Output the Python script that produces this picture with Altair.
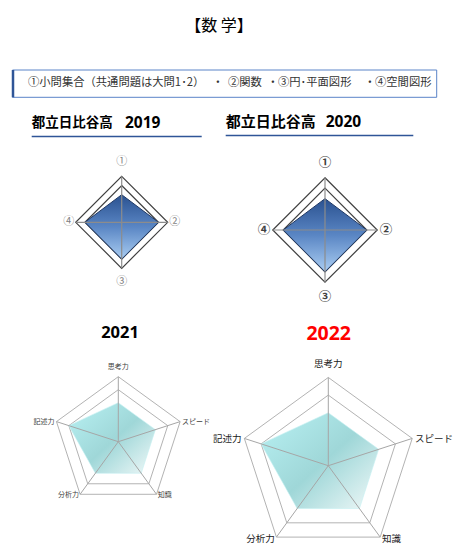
import math
import altair as alt
import pandas as pd

# ---------------- data ----------------
MAIN_TITLE = "【数 学】"
LEGEND_ITEMS = ["①小問集合（共通問題は大問1･2）", "②関数", "③円･平面図形", "④空間図形"]
LEGEND_SEP = "・"
SCHOOL = "都立日比谷高"
diamond_years = ["2019", "2020"]
diamond_axes = ["①", "②", "③", "④"]
scores_2019 = [3, 4, 4, 4]
scores_2020 = [3, 4, 4, 4]
pent_years = ["2021", "2022"]
pent_axes = ["思考力", "スピード", "知識", "分析力", "記述力"]
scores_2021 = [3, 3, 3, 3, 4]
scores_2022 = [3, 3, 3, 3, 4]
grid_levels = [4, 5]

# ---------------- layout ----------------
JP = "Noto Sans CJK JP"
LAT = "Noto Sans"
XS = alt.Scale(domain=[8, 453], range=[0, 445], zero=False, nice=False)
YS = alt.Scale(domain=[8, 545], range=[0, 537], zero=False, nice=False)
legend_item_x = [28, 228, 278, 375]
legend_sep_x = [218, 273, 370]

radar_layout = {
    "2019": dict(cx=121.7, cy=222.3, unit=9.2),
    "2020": dict(cx=325.0, cy=230.0, unit=10.45),
    "2021": dict(cx=118.3, cy=441.7, unit=13.0),
    "2022": dict(cx=328.3, cy=465.7, unit=17.65),
}


def enc(**extra):
    d = dict(x=alt.X("x:Q", scale=XS, axis=None), y=alt.Y("y:Q", scale=YS, axis=None))
    d.update(extra)
    return d


def angle(k, n):
    return math.radians(90 - 360.0 * k / n)


def polygon_rows(year, values, tag):
    L = radar_layout[year]
    n = len(values)
    rows = []
    for k, v in enumerate(values):
        a = angle(k, n)
        r = v * L["unit"]
        rows.append(dict(x=L["cx"] + r * math.cos(a), y=L["cy"] - r * math.sin(a), i=k, poly=f"{year}-{tag}"))
    return rows


def spoke_rows(year, n):
    L = radar_layout[year]
    R = max(grid_levels) * L["unit"]
    rows = []
    for k in range(n):
        a = angle(k, n)
        rows.append(dict(x=L["cx"], y=L["cy"], x2=L["cx"] + R * math.cos(a), y2=L["cy"] - R * math.sin(a)))
    return rows


def text_layer(text, x, y, size, color="#000000", weight="normal", font=JP, align="center", baseline="middle"):
    df = pd.DataFrame([dict(x=x, y=y, t=text)])
    return alt.Chart(df).mark_text(
        fontSize=size, color=color, fontWeight=weight, font=font, align=align, baseline=baseline
    ).encode(**enc(text="t:N"))


def rule_layer(rows, color, width):
    return alt.Chart(pd.DataFrame(rows)).mark_rule(color=color, strokeWidth=width).encode(
        **enc(x2="x2:Q", y2="y2:Q")
    )


layers = []

# title
layers.append(text_layer(MAIN_TITLE, 219, 26, 16))

# legend box
box = pd.DataFrame([dict(x=12.5, x2=436.7, y=70, y2=97.3)])
layers.append(alt.Chart(box).mark_rect(fill="white", stroke="#5B84C8", strokeWidth=1).encode(
    **enc(x2="x2:Q", y2="y2:Q")))
layers.append(rule_layer([dict(x=13, x2=13, y=70, y2=97.3)], "#2F5597", 2.5))
for item, px in zip(LEGEND_ITEMS, legend_item_x):
    layers.append(text_layer(item, px, 83, 11.3, color="#333333", align="left"))
for px in legend_sep_x:
    layers.append(text_layer(LEGEND_SEP, px, 83, 11.3, color="#333333", align="center"))

# headings
layers.append(text_layer(SCHOOL, 31.7, 123, 13.5, weight="bold", align="left"))
layers.append(text_layer(diamond_years[0], 125, 123, 15.5, weight="bold", font=LAT, align="left"))
layers.append(text_layer(SCHOOL, 225.7, 122, 15, weight="bold", align="left"))
layers.append(text_layer(diamond_years[1], 325.7, 122, 15.5, weight="bold", font=LAT, align="left"))
layers.append(rule_layer([dict(x=31.7, x2=201.7, y=136.5, y2=136.5),
                          dict(x=225.7, x2=413.3, y=135.5, y2=135.5)], "#2F5597", 1.6))

# ---- diamonds ----
ring_rows = []
for yr in diamond_years:
    for lv in grid_levels:
        ring_rows += polygon_rows(yr, [lv] * len(diamond_axes), f"ring{lv}")
layers.append(alt.Chart(pd.DataFrame(ring_rows)).mark_line(
    interpolate="linear-closed", stroke="#3F3F3F", strokeWidth=1.2).encode(
    **enc(order="i:Q", detail="poly:N")))

diamond_grad = {
    "gradient": "linear", "x1": 0, "y1": 0, "x2": 0, "y2": 1,
    "stops": [{"offset": 0, "color": "#2A5190"}, {"offset": 0.5, "color": "#5A86C4"},
              {"offset": 1, "color": "#AACDF2"}],
}
drows = polygon_rows("2019", scores_2019, "data") + polygon_rows("2020", scores_2020, "data")
layers.append(alt.Chart(pd.DataFrame(drows)).mark_line(
    interpolate="linear-closed", fill=diamond_grad, stroke="#1F3864", strokeWidth=1).encode(
    **enc(order="i:Q", detail="poly:N")))

layers.append(rule_layer(spoke_rows("2019", 4) + spoke_rows("2020", 4), "#8C8C8C", 1.2))

# diamond labels
def diamond_label_rows(year, rv, rh):
    L = radar_layout[year]
    rows = []
    for k, lab in enumerate(diamond_axes):
        a = angle(k, 4)
        r = rv if k % 2 == 0 else rh
        rows.append(dict(x=L["cx"] + r * math.cos(a), y=L["cy"] - r * math.sin(a), t=lab))
    return rows

layers.append(alt.Chart(pd.DataFrame(diamond_label_rows("2019", 60, 53))).mark_text(
    font=JP, fontSize=11, color="#7F7F7F").encode(**enc(text="t:N")))
layers.append(alt.Chart(pd.DataFrame(diamond_label_rows("2020", 67, 61))).mark_text(
    font=JP, fontSize=12.5, fontWeight="bold", color="#404040").encode(**enc(text="t:N")))

# ---- pentagons ----
layers.append(text_layer(pent_years[0], 120, 333, 16.5, weight="bold", font=LAT))
layers.append(text_layer(pent_years[1], 328.7, 334, 19.5, color="#FF0000", weight="bold", font=LAT))

pring = []
for yr in pent_years:
    for lv in grid_levels:
        pring += polygon_rows(yr, [lv] * len(pent_axes), f"ring{lv}")
layers.append(alt.Chart(pd.DataFrame(pring)).mark_line(
    interpolate="linear-closed", stroke="#B3B3B3", strokeWidth=1).encode(
    **enc(order="i:Q", detail="poly:N")))

pent_grad = {
    "gradient": "linear", "x1": 0, "y1": 0.1, "x2": 1, "y2": 1,
    "stops": [{"offset": 0, "color": "#B6EFF1"}, {"offset": 0.5, "color": "#9FD7D8"},
              {"offset": 1, "color": "#F2F9F9"}],
}
prows = polygon_rows("2021", scores_2021, "data") + polygon_rows("2022", scores_2022, "data")
layers.append(alt.Chart(pd.DataFrame(prows)).mark_line(
    interpolate="linear-closed", fill=pent_grad, stroke="#C4F0F2", strokeWidth=0.6).encode(
    **enc(order="i:Q", detail="poly:N")))

layers.append(rule_layer(spoke_rows("2021", 5) + spoke_rows("2022", 5), "#A6A6A6", 1))

# pentagon labels
def pent_label_rows(year, gap, top_gap):
    L = radar_layout[year]
    R = max(grid_levels) * L["unit"]
    rows = []
    for k, lab in enumerate(pent_axes):
        a = angle(k, 5)
        c = math.cos(a)
        s = math.sin(a)
        if abs(c) < 0.3:
            g, al = top_gap, "center"
        else:
            g, al = gap, ("left" if c > 0 else "right")
        dy = 0 if al == "center" else (1.0 if s > 0 else -1.0)
        rows.append(dict(x=L["cx"] + (R + g) * c, y=L["cy"] - (R + g) * s + dy, t=lab, al=al))
    return rows

for yr, size, col, gap, tg in [("2021", 7, "#404040", 2, 10), ("2022", 9.5, "#1A1A1A", 3, 13)]:
    df = pd.DataFrame(pent_label_rows(yr, gap, tg))
    for al in ["center", "left", "right"]:
        sub = df[df["al"] == al]
        layers.append(alt.Chart(sub).mark_text(font=JP, fontSize=size, color=col, align=al).encode(
            **enc(text="t:N")))

chart = alt.layer(*layers).properties(
    width=445, height=537, padding=0, autosize="none"
).configure_view(stroke=None)

chart.save("out.html", embed_options={"renderer": "svg", "actions": False})
